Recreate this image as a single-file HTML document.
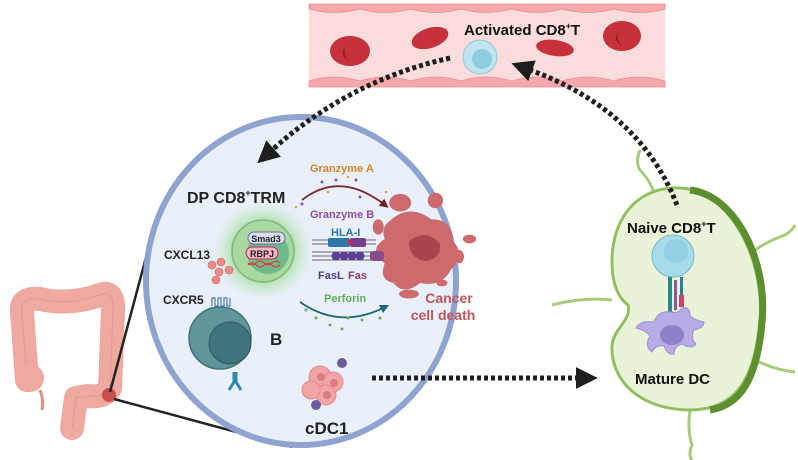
<!DOCTYPE html>
<html><head><meta charset="utf-8"><style>
html,body{margin:0;padding:0;background:#fff;width:798px;height:460px;overflow:hidden}
svg{display:block}
text{font-family:"Liberation Sans",Arial,sans-serif;font-weight:bold}
</style></head><body>
<svg width="798" height="460" viewBox="0 0 798 460" xmlns="http://www.w3.org/2000/svg">
<defs>
<radialGradient id="glow" cx="0.5" cy="0.5" r="0.5">
<stop offset="0.55" stop-color="#9ed89a" stop-opacity="0.9"/>
<stop offset="1" stop-color="#c8ecc4" stop-opacity="0"/>
</radialGradient>
<marker id="ah" viewBox="0 0 10 10" refX="1" refY="5" markerWidth="22" markerHeight="22" markerUnits="userSpaceOnUse" orient="auto"><path d="M0,0 L10,5 L0,10 Z" fill="#1e1e1e"/></marker>
<marker id="sa" viewBox="0 0 10 10" refX="5" refY="5" markerWidth="5" markerHeight="5" orient="auto"><path d="M0,0 L10,5 L0,10 Z" fill="#6b1d22"/></marker>
<marker id="sb" viewBox="0 0 10 10" refX="5" refY="5" markerWidth="5" markerHeight="5" orient="auto"><path d="M0,0 L10,5 L0,10 Z" fill="#1f6478"/></marker>
</defs>

<!-- blood vessel -->
<rect x="309" y="4" width="356" height="83" fill="#fbdcdc"/>
<g fill="#f6a9ad" stroke="#ea8a90" stroke-width="0.8">
<path d="M309,4 H665 V9 Q640,16 614,9 Q588,16 562,9 Q537,16 512,9 Q486,16 461,9 Q436,16 411,9 Q385,16 360,9 Q334,16 309,9 Z"/>
<path d="M309,87 H665 V81 Q640,73 614,81 Q588,73 562,81 Q537,73 512,81 Q486,73 461,81 Q436,73 411,81 Q385,73 360,81 Q334,73 309,81 Z"/>
</g>
<g fill="#c7313c"><ellipse cx="350" cy="51" rx="20" ry="15"/><ellipse cx="430" cy="38" rx="19" ry="10" transform="rotate(-18 430 38)"/><ellipse cx="555" cy="48" rx="19" ry="8" transform="rotate(8 555 48)"/><ellipse cx="622" cy="36" rx="19" ry="15"/></g>
<g fill="#961a26"><path d="M345,47 q-6,8 4,14 q-6,-6 -4,-14z"/><path d="M618,32 q-6,8 4,14 q-6,-6 -4,-14z"/></g>
<circle cx="480" cy="57" r="17" fill="#bfe4ec" stroke="#8fc8d6"/><circle cx="482" cy="59" r="10" fill="#8dcde0"/>
<text x="464" y="35" font-size="15" fill="#111">Activated CD8<tspan font-size="9" dy="-6">+</tspan><tspan dy="6">T</tspan></text>

<!-- colon -->
<g fill="none" stroke="#eea9a0" stroke-linecap="round" stroke-linejoin="round">
<path d="M27,380 L22,312 Q20,297 40,299 Q70,306 103,294 Q114,292 113,310 L110,388 Q104,398 88,396 L76,398 L72,428" stroke-width="24"/>
<path d="M27,380 L22,312 Q20,297 40,299 Q70,306 103,294 Q114,292 113,310 L110,388 Q104,398 88,396 L76,398 L72,428" stroke="#e29a91" stroke-width="1.2"/>
</g>
<circle cx="30" cy="378" r="14" fill="#eea9a0"/>
<path d="M40,390 q4,10 2,20" stroke="#dc8f86" stroke-width="3" fill="none"/>
<circle cx="109" cy="395" r="7" fill="#c8504a"/>
<line x1="110" y1="392" x2="152" y2="235" stroke="#222" stroke-width="2.5"/>
<line x1="114" y1="399" x2="292" y2="447" stroke="#222" stroke-width="2.5"/>

<!-- big circle -->
<ellipse cx="301" cy="281" rx="155" ry="164" fill="#eaf0fa" stroke="#8fa3d0" stroke-width="6"/>

<!-- TRM -->
<circle cx="263" cy="251" r="50" fill="url(#glow)"/>
<circle cx="263" cy="251" r="31" fill="#a9d9a0" stroke="#7cb97a" stroke-width="1.5"/>
<circle cx="268" cy="253" r="21" fill="#6fb98a"/>
<rect x="248" y="232" width="37" height="12" rx="6" fill="#d8dcee" stroke="#6a6f99"/>
<text x="266" y="242" font-size="9" text-anchor="middle" fill="#222">Smad3</text>
<rect x="246" y="247" width="32" height="12" rx="6" fill="#f7b5c4" stroke="#b03050"/>
<text x="262" y="257" font-size="9" text-anchor="middle" fill="#222">RBPJ</text>
<path d="M248,265 q4,-4 8,0 t8,0 t8,0 t8,0 M248,263 q4,4 8,0 t8,0 t8,0 t8,0" stroke="#e03030" fill="none" stroke-width="1"/>
<text x="187" y="203" font-size="16" fill="#222">DP CD8<tspan font-size="9" dy="-7">+</tspan><tspan dy="7">TRM</tspan></text>

<!-- CXCL13 -->
<g fill="#ee8a88" stroke="#d06060" stroke-width="0.6"><circle cx="212" cy="265" r="4"/><circle cx="221" cy="262" r="4"/><circle cx="219" cy="272" r="4"/><circle cx="229" cy="270" r="4"/><circle cx="216" cy="280" r="4"/></g>
<text x="164" y="259" font-size="12" fill="#222">CXCL13</text>
<text x="163" y="304" font-size="12" fill="#222">CXCR5</text>
<path d="M212,306 v-8 h3 v8 h3 v-8 h3 v8 h3 v-8 h3 v8 h3 v-8" stroke="#4a78b8" fill="none" stroke-width="1.2"/>

<!-- B cell -->
<circle cx="220" cy="338" r="31" fill="#5f959b" stroke="#3f7278" stroke-width="1.5"/>
<circle cx="230" cy="343" r="21" fill="#41737c" stroke="#2f5a60"/>
<path d="M234,372 v10 l-5,8 M236,372 v10 l5,8" stroke="#2c8ab0" stroke-width="3" fill="none"/>
<text x="270" y="345" font-size="17" fill="#222">B</text>

<!-- granzymes -->
<text x="310" y="172" font-size="11" fill="#d9822b">Granzyme A</text>
<path d="M302,200 Q340,170 385,205" stroke="#7a2a30" stroke-width="1.8" fill="none" marker-end="url(#sa)"/>
<g fill="#8e4fa6"><circle cx="322" cy="182" r="1.5"/><circle cx="336" cy="180" r="1.5"/><circle cx="356" cy="180" r="1.5"/><circle cx="302" cy="204" r="1.5"/><circle cx="360" cy="197" r="1.5"/></g>
<g fill="#e0a040"><circle cx="348" cy="177" r="1.3"/><circle cx="296" cy="207" r="1.3"/><circle cx="328" cy="192" r="1.3"/><circle cx="386" cy="192" r="1.3"/></g>
<text x="310" y="218" font-size="11" fill="#8e4fa6">Granzyme B</text>

<!-- cancer cell -->
<g transform="translate(420,250) scale(1.1) translate(-410,-258)">
<g fill="#cc6a6e">
<path d="M382,232 Q400,215 420,230 Q440,230 440,250 Q452,262 438,276 Q430,292 410,288 Q395,300 386,288 Q372,285 378,270 Q362,258 378,248 Q374,238 382,232 Z"/>
<ellipse cx="392" cy="215" rx="10" ry="8"/><ellipse cx="424" cy="213" rx="7" ry="7"/><ellipse cx="372" cy="237" rx="5" ry="7"/>
<ellipse cx="455" cy="248" rx="6" ry="4"/><ellipse cx="446" cy="264" rx="4" ry="6"/><ellipse cx="400" cy="298" rx="9" ry="4"/><ellipse cx="430" cy="288" rx="5" ry="3"/>
</g>
<path d="M400,250 Q415,238 428,252 Q430,266 415,268 Q400,266 400,250Z" fill="#a9444c"/>
</g>
<text x="449" y="303" font-size="14" fill="#c2555a" text-anchor="middle">Cancer</text>
<text x="443" y="320" font-size="14" fill="#c2555a" text-anchor="middle">cell death</text>

<!-- receptors -->
<g stroke="#333" stroke-width="0.8"><line x1="312" y1="240" x2="376" y2="240"/><line x1="312" y1="244" x2="376" y2="244"/><line x1="312" y1="252" x2="380" y2="252"/><line x1="312" y1="256" x2="380" y2="256"/><line x1="312" y1="260" x2="380" y2="260"/></g>
<rect x="328" y="238" width="22" height="9" rx="2" fill="#2c78a8"/>
<rect x="350" y="238" width="16" height="9" rx="2" fill="#7a3f90"/>
<circle cx="350" cy="242" r="2.5" fill="#d02050"/>
<g fill="#5a3e95"><circle cx="336" cy="256" r="4.5"/><circle cx="344" cy="256" r="4.5"/><circle cx="352" cy="256" r="4.5"/><circle cx="360" cy="256" r="4.5"/></g>
<rect x="370" y="251" width="14" height="10" rx="3" fill="#8b4a8a"/>
<text x="331" y="236" font-size="11" fill="#2c78a8">HLA-I</text>
<text x="318" y="279" font-size="11" fill="#4a3a8a">FasL</text>
<text x="348" y="279" font-size="11" fill="#8b3a7a">Fas</text>

<!-- perforin -->
<text x="324" y="302" font-size="11" fill="#5fae5a">Perforin</text>
<path d="M300,302 Q340,330 385,307" stroke="#1f6478" stroke-width="1.8" fill="none" marker-end="url(#sb)"/>
<g fill="#5fae5a"><circle cx="306" cy="310" r="1.5"/><circle cx="316" cy="318" r="1.5"/><circle cx="330" cy="325" r="1.5"/><circle cx="348" cy="318" r="1.5"/><circle cx="362" cy="320" r="1.5"/><circle cx="342" cy="329" r="1.5"/><circle cx="380" cy="318" r="1.5"/></g>

<!-- cDC1 -->
<g fill="#f3a4a4" stroke="#e08a8a"><circle cx="320" cy="377" r="11"/><circle cx="333" cy="382" r="10"/><circle cx="326" cy="395" r="10"/><circle cx="311" cy="390" r="9"/></g>
<g fill="#dc7c80"><circle cx="321" cy="377" r="4"/><circle cx="334" cy="383" r="4"/><circle cx="327" cy="395" r="4"/></g>
<circle cx="342" cy="363" r="5" fill="#6a5a9e"/><circle cx="316" cy="405" r="5" fill="#6a5a9e"/>
<text x="305" y="434" font-size="17" fill="#222">cDC1</text>

<!-- lymph node -->
<g stroke="#a6cc7c" stroke-width="3" fill="none">
<path d="M655,195 q-5,-15 -15,-25 q-5,-8 0,-20"/>
<path d="M612,300 q-30,-3 -60,5"/>
<path d="M755,250 q15,-10 30,-15 q8,-5 10,-10"/>
<path d="M755,360 q20,10 40,12"/>
<path d="M690,410 q-3,20 2,35 q-4,10 0,15"/>
</g>
<path d="M680,188 C730,190 765,260 760,320 C755,380 735,410 690,410 C640,410 610,380 612,345 C614,328 632,320 628,305 C616,296 612,280 612,262 C612,215 640,186 680,188 Z" fill="#e8f3d8" stroke="#93bf62" stroke-width="3"/>
<path d="M690,190 C735,195 768,260 762,322 C757,380 740,405 710,410" fill="none" stroke="#5d8f30" stroke-width="7"/>
<circle cx="673" cy="256" r="21" fill="#a8dbea" stroke="#78b8cc"/><circle cx="676" cy="251" r="12" fill="#92cfe3"/>
<g><rect x="668" y="277" width="4" height="40" fill="#2a8a8a"/><rect x="674" y="280" width="3" height="30" fill="#8a5aa0"/><rect x="680" y="277" width="3" height="24" fill="#2c78a8"/><rect x="679" y="295" width="5" height="12" fill="#d04070"/></g>
<path d="M672,312 q-14,-2 -18,10 q-14,-2 -18,6 q10,2 14,8 q-6,10 2,16 q4,-8 12,-6 q4,10 10,8 q0,-8 8,-10 q10,6 14,0 q-6,-6 -2,-14 q10,-2 10,-8 q-10,-2 -14,-6 q0,-10 -8,-8 q-4,6 -10,4 z" fill="#b9abe6" stroke="#9c8ed4"/>
<ellipse cx="672" cy="335" rx="12" ry="10" fill="#8f80c8"/>
<text x="627" y="233" font-size="15" fill="#111">Naive CD8<tspan font-size="9" dy="-6">+</tspan><tspan dy="6">T</tspan></text>
<text x="635" y="384" font-size="15" fill="#111">Mature DC</text>

<!-- dotted arrows -->
<g stroke="#1e1e1e" stroke-width="5" fill="none" stroke-dasharray="4 3">
<path d="M450,58 Q350,80 272,150" marker-end="url(#ah)"/>
<path d="M677,205 Q640,110 530,70" marker-end="url(#ah)"/>
<path d="M372,378 H578" marker-end="url(#ah)"/>
</g>
</svg>
</body></html>
